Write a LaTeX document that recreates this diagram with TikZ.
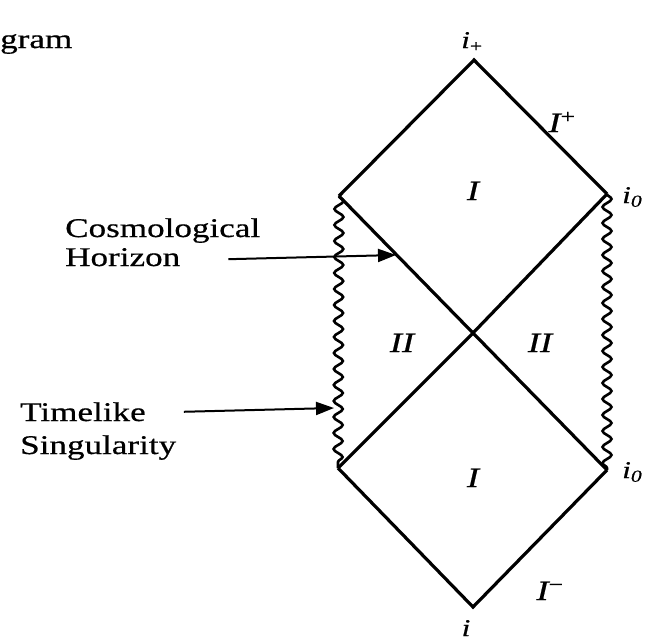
\documentclass[tikz,border=0pt]{standalone}
\usepackage{fontspec}
\usetikzlibrary{decorations.pathmorphing,arrows.meta}
\newfontfamily\lab[FakeStretch=1.3,FakeBold=0.6]{Liberation Serif}
\tikzset{
  txt/.style={font=\lab\fontsize{27}{30}\selectfont, inner sep=0pt, align=left},
  reg/.style={font=\lab\itshape\fontsize{28}{30}\selectfont, inner sep=0pt},
  pt/.style={font=\lab\itshape\fontsize{24}{26}\selectfont, inner sep=0pt},
  edge/.style={line width=3.2pt, line join=miter},
  wavy/.style={line width=2.6pt, decorate, decoration={snake, segment length=16pt, amplitude=4.5pt}},
  pointer/.style={line width=2pt, -{Triangle[length=18pt,width=13pt]}}
}
\begin{document}
\begin{tikzpicture}[x=1pt,y=-1pt]
\useasboundingbox (0,0) rectangle (647,643);
\coordinate (T) at (474,60);
\coordinate (TL) at (339,196);
\coordinate (TR) at (607,194);
\coordinate (C) at (473,333);
\coordinate (BL) at (338,468);
\coordinate (BR) at (607,470);
\coordinate (B) at (473,607);
% edges
\draw[wavy] (TL) -- (BL);
\draw[wavy] (TR) -- (BR);
\draw[edge] (TL) -- (T) -- (TR);
\draw[edge] (TL) -- (C) -- (BR);
\draw[edge] (TR) -- (C) -- (BL);
\draw[edge] (BL) -- (B) -- (BR);
% labels
\node[txt, anchor=base west] (gram) at (0,48) {gram};
\node[pt, anchor=base] (ip) at (472,48) {i\textsubscript{\upshape +}};
\node[reg, anchor=base] (Ip) at (562,132) {I\textsuperscript{\upshape +}};
\node[pt, anchor=base west] (i0a) at (622,203) {i\textsubscript{0}};
\node[pt, anchor=base west] (i0b) at (622,478) {i\textsubscript{0}};
\node[reg, anchor=base] (r1) at (473,200) {I};
\node[reg, anchor=base] (r2) at (402,352) {II};
\node[reg, anchor=base] (r3) at (540,352) {II};
\node[reg, anchor=base] (r4) at (473,487) {I};
\node[reg, anchor=base] (Im) at (550,600) {I\textsuperscript{\upshape −}};
\node[pt, anchor=base] (im) at (466,636) {i};
\node[txt, anchor=base west] (cos) at (65,237) {Cosmological};
\node[txt, anchor=base west] (hor) at (65,266) {Horizon};
\node[txt, anchor=base west] (time) at (20,421) {Timelike};
\node[txt, anchor=base west] (sing) at (20,454) {Singularity};
\coordinate (ch) at (396,255);
\coordinate (ts) at (334,408);
\draw[pointer] (hor.east) ++(48,2) -- (ch);
\draw[pointer] (time.east) ++(38,0) -- (ts);
\end{tikzpicture}
\end{document}
